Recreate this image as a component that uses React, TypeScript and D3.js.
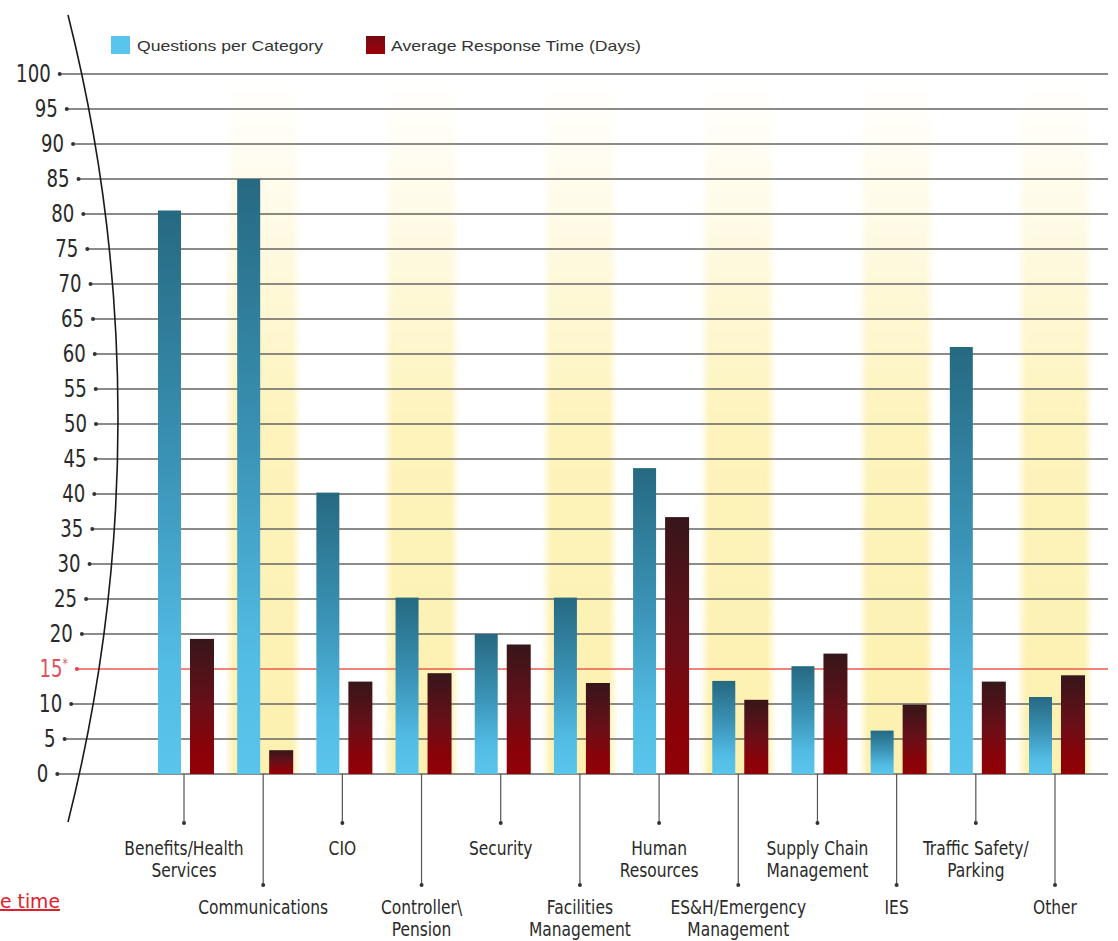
import React from "react";
import * as d3 from "d3";

const categories = [
  "Benefits/Health\nServices",
  "Communications",
  "CIO",
  "Controller\\\nPension",
  "Security",
  "Facilities\nManagement",
  "Human\nResources",
  "ES&H/Emergency\nManagement",
  "Supply Chain\nManagement",
  "IES",
  "Traffic Safety/\nParking",
  "Other",
];
const questionsPerCategory = [80.5, 85, 40.2, 25.2, 20, 25.2, 43.7, 13.3, 15.4, 6.2, 61, 11];
const avgResponseDays = [19.3, 3.4, 13.2, 14.4, 18.5, 13, 36.7, 10.6, 17.2, 9.9, 13.2, 14.1];
const yTicks = d3.range(0, 101, 5);
const targetValue = 15;
const legendLabels = ["Questions per Category", "Average Response Time (Days)"];
const footnote = "e time";

const W = 1118;
const H = 941;
const narrow = "'Liberation Sans Narrow', 'DejaVu Sans Condensed', 'Arial Narrow', sans-serif";

export default function App() {
  const y = d3.scaleLinear().domain([0, 100]).range([774, 74]);
  const x = d3.scalePoint<string>().domain(categories).range([184, 1055]);
  const bandW = 76;
  const blueW = 23;
  const redW = 24;

  // curved axis arc
  const arcTop = 15, arcBot = 822, arcX0 = 68, sag = 50;
  const h = (arcBot - arcTop) / 2;
  const R = (h * h + sag * sag) / (2 * sag);
  const cy = (arcTop + arcBot) / 2;
  const cx = arcX0 + sag - R;
  const arcX = (yy: number) => cx + Math.sqrt(R * R - (yy - cy) * (yy - cy));

  const gridRight = 1108;

  return (
    <svg width={W} height={H} style={{ position: "absolute", left: 0, top: 0, background: "#fff" }}>
      <defs>
        <linearGradient id="blueG" x1="0" y1="0" x2="0" y2="1">
          <stop offset="0" stopColor="#266981" />
          <stop offset="0.45" stopColor="#3a93b6" />
          <stop offset="0.8" stopColor="#53bce4" />
          <stop offset="1" stopColor="#5ac5ec" />
        </linearGradient>
        <linearGradient id="redG" x1="0" y1="0" x2="0" y2="1">
          <stop offset="0" stopColor="#36161a" />
          <stop offset="0.5" stopColor="#6a0f18" />
          <stop offset="0.8" stopColor="#880309" />
          <stop offset="1" stopColor="#910006" />
        </linearGradient>
        <linearGradient id="bandH" x1="0" y1="0" x2="1" y2="0">
          <stop offset="0" stopColor="#fdf1b0" stopOpacity="0" />
          <stop offset="0.12" stopColor="#fdf1b0" stopOpacity="1" />
          <stop offset="0.88" stopColor="#fdf1b0" stopOpacity="1" />
          <stop offset="1" stopColor="#fdf1b0" stopOpacity="0" />
        </linearGradient>
        <linearGradient id="bandV" gradientUnits="userSpaceOnUse" x1="0" y1={y(100)} x2="0" y2={y(0)}>
          <stop offset="0" stopColor="#fff" stopOpacity="0" />
          <stop offset="0.2" stopColor="#fff" stopOpacity="0.3" />
          <stop offset="0.5" stopColor="#fff" stopOpacity="0.85" />
          <stop offset="1" stopColor="#fff" stopOpacity="1" />
        </linearGradient>
        <mask id="bandMask" maskUnits="userSpaceOnUse" x="0" y="0" width={W} height={H}>
          <rect x="0" y={y(100)} width={W} height={y(0) - y(100)} fill="url(#bandV)" />
        </mask>
      </defs>

      {/* yellow bands */}
      <g mask="url(#bandMask)">
        {categories.map((c, i) =>
          i % 2 === 1 ? (
            <rect key={c} x={(x(c) as number) - bandW / 2} y={y(100)} width={bandW} height={y(0) - y(100)} fill="url(#bandH)" />
          ) : null
        )}
      </g>

      {/* gridlines + ticks */}
      {yTicks.map((t) => {
        const yy = y(t);
        const dx = arcX(yy) - 22;
        const isTarget = t === targetValue;
        return (
          <g key={t}>
            <line x1={dx} x2={gridRight} y1={yy} y2={yy} stroke={isTarget ? "#ee5a4f" : "#646464"} strokeWidth={1.6} />
            <circle cx={dx} cy={yy} r={2} fill={isTarget ? "#e04048" : "#333"} />
            <g transform={`translate(${dx - 9},${yy + 8}) scale(0.84,1)`}>
              <text x={0} y={0} textAnchor="end" fontFamily={narrow} fontSize={24} fill={isTarget ? "#e0505a" : "#2a2a2a"}>
                {t}
                {isTarget ? (
                  <tspan fontSize={14} dy={-9}>*</tspan>
                ) : null}
              </text>
            </g>
          </g>
        );
      })}

      {/* curved axis */}
      <path d={`M ${arcX0} ${arcTop} A ${R} ${R} 0 0 1 ${arcX0} ${arcBot}`} fill="none" stroke="#1a1a1a" strokeWidth={1.6} />

      {/* bars */}
      {categories.map((c, i) => {
        const cxp = x(c) as number;
        return (
          <g key={c}>
            <rect x={cxp - 26} y={y(questionsPerCategory[i])} width={blueW} height={y(0) - y(questionsPerCategory[i])} fill="url(#blueG)" />
            <rect x={cxp + 6} y={y(avgResponseDays[i])} width={redW} height={y(0) - y(avgResponseDays[i])} fill="url(#redG)" />
          </g>
        );
      })}

      {/* x ticks + labels */}
      {categories.map((c, i) => {
        const cxp = x(c) as number;
        const low = i % 2 === 1;
        const dotY = low ? 885 : 823;
        const base = low ? 914 : 855;
        const lines = c.split("\n");
        return (
          <g key={c}>
            <line x1={cxp} x2={cxp} y1={y(0)} y2={dotY} stroke="#555" strokeWidth={1.2} />
            <circle cx={cxp} cy={dotY} r={2} fill="#333" />
            {lines.map((l, k) => (
              <g key={k} transform={`translate(${cxp},${base + k * 22}) scale(0.86,1)`}>
                <text x={0} y={0} textAnchor="middle" fontFamily={narrow} fontSize={20} fill="#2a2a2a">{l}</text>
              </g>
            ))}
          </g>
        );
      })}

      {/* legend */}
      <rect x={111} y={36} width={19} height={18} fill="#5ac5ec" />
      <text x={137} y={51} fontFamily="'Liberation Sans', Arial, sans-serif" fontSize={15} fill="#333" textLength={186} lengthAdjust="spacingAndGlyphs">{legendLabels[0]}</text>
      <rect x={366} y={36} width={19} height={18} fill="#a0000c" />
      <rect x={366} y={36} width={19} height={18} fill="url(#redG)" opacity={0.4} />
      <text x={391} y={51} fontFamily="'Liberation Sans', Arial, sans-serif" fontSize={15} fill="#333" textLength={250} lengthAdjust="spacingAndGlyphs">{legendLabels[1]}</text>

      {/* footnote link */}
      <text x={0} y={908} fontFamily={narrow} fontSize={20} fill="#e0202a" textDecoration="underline" textLength={60} lengthAdjust="spacingAndGlyphs">{footnote}</text>
    </svg>
  );
}
